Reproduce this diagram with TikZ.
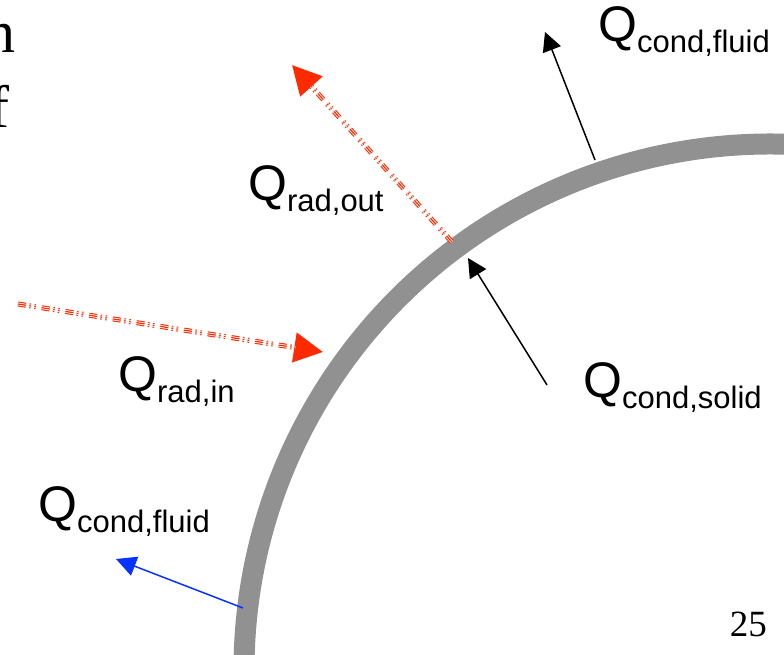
\documentclass[tikz,border=0pt]{standalone}
\usepackage{fontspec}
\usetikzlibrary{arrows.meta}

\newfontfamily\labelfont{Liberation Sans}
\newfontfamily\slidefont{Liberation Serif}

\definecolor{wallgray}{RGB}{145,145,145}
\definecolor{radred}{RGB}{255,42,0}
\definecolor{fluidblue}{RGB}{10,50,255}

% Q with a lowered subscript, as on the slide
\newcommand{\heatflux}[1]{Q\raisebox{-11pt}{\fontsize{31}{36}\selectfont #1}}

\begin{document}
\begin{tikzpicture}[x=1pt, y=1pt]

% --- global styles ---
\tikzset{
  fluxlabel/.style={anchor=base west, inner sep=0pt, font=\labelfont\fontsize{50}{60}\selectfont},
  radline/.style={draw=radred, line width=5pt,
    dash pattern=on 8pt off 3.5pt on 1.5pt off 3.5pt on 1.5pt off 6pt,
    -{Triangle[length=29pt, width=29pt]}},
  radstripe/.style={draw=white, line width=0.8pt, double=radred, double distance=1.2pt,
    dash pattern=on 8pt off 3.5pt on 1.5pt off 3.5pt on 1.5pt off 6pt,
    shorten >=28pt},
  condline/.style={draw=black, line width=1.5pt, -{Triangle[length=19pt, width=19pt]}},
  fluidline/.style={draw=fluidblue, line width=1.5pt, -{Triangle[length=20pt, width=20pt]}}
}

% --- frame ---
\useasboundingbox (0,0) rectangle (784,655);
\clip (0,0) rectangle (784,655);

% --- parameters ---
\def\wallRadius{526pt}  % radius of the wall
\def\wallWidth{21pt}    % thickness of the wall

% --- key points ---
\coordinate (C) at (770,-15);          % centre of the wall arc
\coordinate (outTail) at (452,413);
\coordinate (outTip) at (292,590);
\coordinate (inTail) at (18,351);
\coordinate (inTip) at (323,303);
\coordinate (solidTail) at (547,270);
\coordinate (solidTip) at (468,397);
\coordinate (fluidTail) at (595,495);
\coordinate (fluidTip) at (545,623);
\coordinate (bulkTail) at (243,47);
\coordinate (bulkTip) at (116,96);

% --- wall ---
\draw[wallgray, line width=\wallWidth] ([shift=(184:\wallRadius)]C) arc (184:84:\wallRadius);

% --- radiation (dash-dot-dot, triple line) ---
\draw[radline] (outTail) -- (outTip);
\draw[radstripe] (outTail) -- (outTip);
\draw[radline] (inTail) -- (inTip);
\draw[radstripe] (inTail) -- (inTip);

% --- conduction ---
\draw[condline] (solidTail) -- (solidTip);
\draw[condline] (fluidTail) -- (fluidTip);
\draw[fluidline] (bulkTail) -- (bulkTip);

% --- labels ---
\node[fluxlabel] (lblFluidTop) at (598,613) {\heatflux{cond,fluid}};
\node[fluxlabel] (lblRadOut) at (248,454) {\heatflux{rad,out}};
\node[fluxlabel] (lblRadIn) at (118,263) {\heatflux{rad,in}};
\node[fluxlabel] (lblSolid) at (583,257) {\heatflux{cond,solid}};
\node[fluxlabel] (lblFluidBot) at (38,133) {\heatflux{cond,fluid}};

% --- slide text cut at the left, page number ---
\node[anchor=base east, inner sep=0pt, font=\slidefont\fontsize{60}{72}\selectfont] (txtN) at (16,602) {n};
\node[anchor=base east, inner sep=0pt, font=\slidefont\fontsize{60}{72}\selectfont] (txtF) at (10,527) {f};
\node[anchor=base east, inner sep=0pt, font=\slidefont\fontsize{37}{44}\selectfont] (pageNo) at (767,18) {25};
\end{tikzpicture}
\end{document}
